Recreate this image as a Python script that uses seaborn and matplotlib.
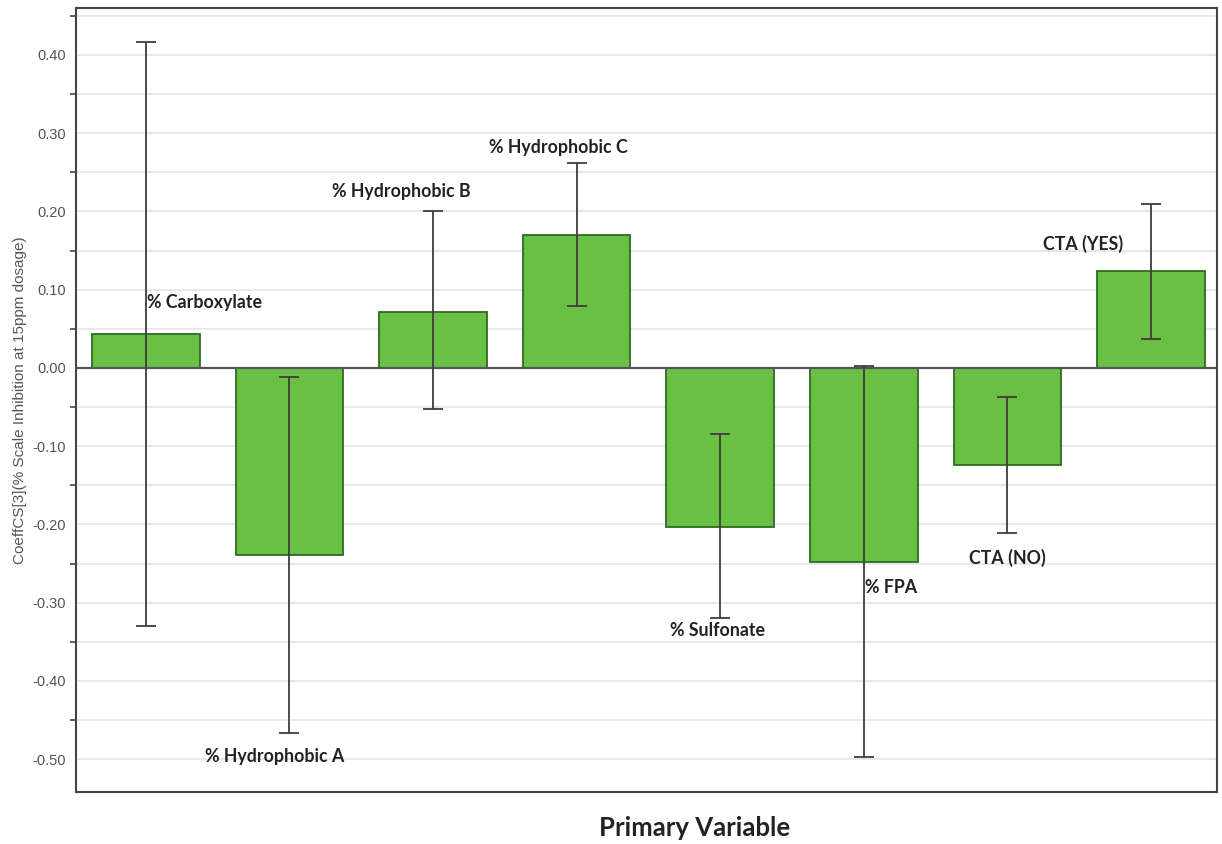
import numpy as np
import pandas as pd
import matplotlib
matplotlib.use("Agg")
import matplotlib.pyplot as plt
from matplotlib.ticker import MultipleLocator, FormatStrFormatter
import seaborn as sns

# ---- data ----
categories = ["% Carboxylate", "% Hydrophobic A", "% Hydrophobic B", "% Hydrophobic C",
              "% Sulfonate", "% FPA", "CTA (NO)", "CTA (YES)"]
coefficients = [0.043, -0.239, 0.072, 0.170, -0.203, -0.248, -0.124, 0.124]
ci_low = [-0.330, -0.466, -0.053, 0.079, -0.320, -0.497, -0.211, 0.037]
ci_high = [0.416, -0.012, 0.200, 0.262, -0.085, 0.003, -0.037, 0.210]
ytick_values = [-0.5, -0.4, -0.3, -0.2, -0.1, 0.0, 0.1, 0.2, 0.3, 0.4]

# label placement (layout, not data): x, y in data coordinates
label_pos = [(0.41, 0.083), (0.90, -0.497), (1.78, 0.226), (2.87, 0.282),
             (3.98, -0.335), (5.19, -0.280), (6.00, -0.243), (6.53, 0.158)]

df = pd.DataFrame({"variable": categories, "coef": coefficients})

sns.set_style("white")
plt.rcParams["font.family"] = ["Liberation Sans", "DejaVu Sans"]

fig = plt.figure(figsize=(12.22, 8.44), dpi=100)
ax = fig.add_axes([76 / 1222, 1 - 792 / 844, (1217 - 76) / 1222, (792 - 8) / 844])

# grid lines every 0.05
for v in np.arange(-0.55, 0.50, 0.05):
    ax.axhline(v, color="#e4e4e4", lw=1.2, zorder=0)

sns.barplot(data=df, x="variable", y="coef", order=categories, color="#6abf45",
            saturation=1, width=0.75, edgecolor="#2f6b22", linewidth=1.3,
            errorbar=None, ax=ax, zorder=2)

ax.axhline(0, color="#555555", lw=1.6, zorder=3)

pos = np.arange(len(categories))
vals = np.array(coefficients)
yerr = np.vstack([vals - np.array(ci_low), np.array(ci_high) - vals])
ax.errorbar(pos, vals, yerr=yerr, fmt="none", ecolor="#3d3d3d", elinewidth=1.3,
            capsize=7, capthick=1.3, zorder=4)

for name, (lx, ly) in zip(categories, label_pos):
    ax.text(lx, ly, name, ha="center", va="center", fontsize=12.8,
            fontweight="bold", color="#222222", family=["Lato", "DejaVu Sans"], zorder=5)

ax.set_xlim(-0.487, 7.46)
ax.set_ylim(-0.542, 0.46)
ax.set_yticks(ytick_values)
ax.yaxis.set_major_formatter(FormatStrFormatter("%.2f"))
ax.yaxis.set_minor_locator(MultipleLocator(0.05))
ax.tick_params(axis="y", which="major", direction="out", length=5, width=1.2,
               color="#444444", labelsize=10.5, labelcolor="#555555", pad=2)
ax.tick_params(axis="y", which="minor", direction="out", length=4, width=1.2,
               color="#444444", left=True)
ax.set_xticks([])
ax.set_xlabel("Primary Variable", fontsize=18.5, fontweight="bold", color="#222222",
              family=["Lato", "DejaVu Sans"])
ax.xaxis.set_label_coords(0.5425, -0.030)
ax.set_ylabel("CoeffCS[3](% Scale Inhibition at 15ppm dosage)", fontsize=11,
              color="#555555", labelpad=4)

for s in ax.spines.values():
    s.set_visible(True)
    s.set_color("#444444")
    s.set_linewidth(1.5)

fig.savefig("out.png", dpi=100, facecolor="white")
